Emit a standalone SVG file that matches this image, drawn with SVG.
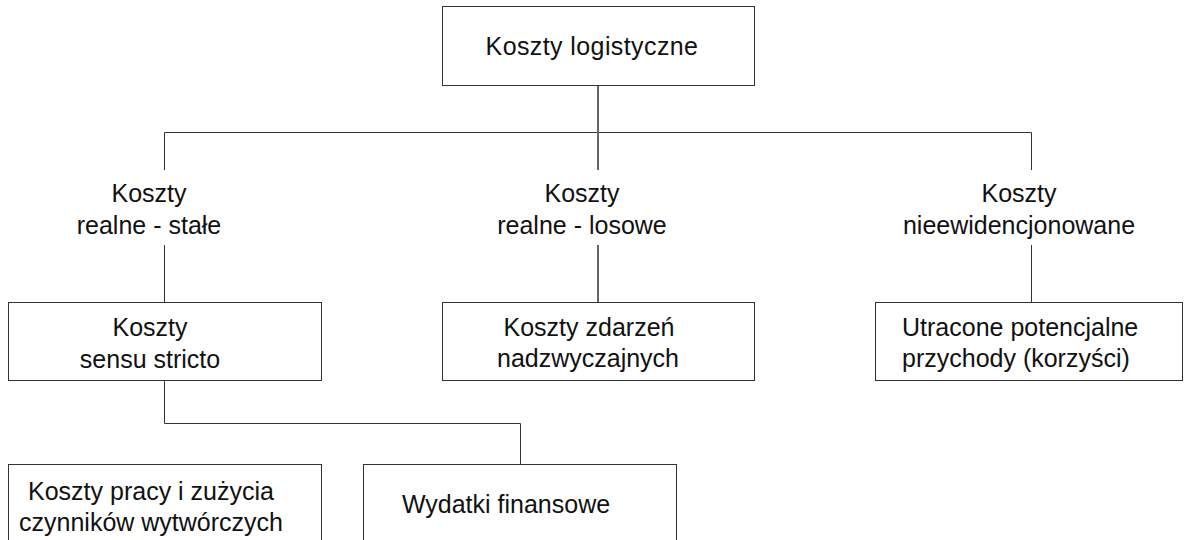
<svg xmlns="http://www.w3.org/2000/svg" width="1184" height="540" viewBox="0 0 1184 540">
<style>
.box{fill:#fff;stroke:#333;stroke-width:1}
.ln{fill:none;stroke:#333;stroke-width:1}
.ln2{fill:none;stroke:#666;stroke-width:2}
text{font-family:"Liberation Sans",Arial,sans-serif;font-size:25px;fill:#111}
.m{text-anchor:middle}
</style>
<rect width="1184" height="540" fill="#fff"/>
<g id="connectors">
<path class="ln" d="M164.5 170 V132.5 H1031.5 V170"/>
<path class="ln2" d="M598 85 V170"/>
<path class="ln" d="M164.5 245 V302"/>
<path class="ln2" d="M598 245 V302"/>
<path class="ln" d="M1031.5 245 V302"/>
<path class="ln" d="M164.5 380 V423.5 H520.5 V464"/>
</g>
<g id="n-logistyczne">
<rect class="box" x="442.5" y="6.5" width="312" height="79"/>
<text class="m" x="592" y="55" style="letter-spacing:0.4px">Koszty logistyczne</text>
</g>
<g id="n-realne-stale">
<text class="m" x="149" y="202">Koszty</text>
<text class="m" x="149" y="234">realne - stałe</text>
</g>
<g id="n-realne-losowe">
<text class="m" x="582" y="202">Koszty</text>
<text class="m" x="582" y="234">realne - losowe</text>
</g>
<g id="n-nieewidencjonowane">
<text class="m" x="1019" y="202">Koszty</text>
<text class="m" x="1019" y="234">nieewidencjonowane</text>
</g>
<g id="n-sensu-stricto">
<rect class="box" x="8.5" y="302.5" width="313" height="78"/>
<text class="m" x="150" y="336">Koszty</text>
<text class="m" x="150" y="368">sensu stricto</text>
</g>
<g id="n-zdarzen">
<rect class="box" x="442.5" y="302.5" width="312" height="78"/>
<text class="m" x="589" y="336">Koszty zdarzeń</text>
<text class="m" x="588" y="367">nadzwyczajnych</text>
</g>
<g id="n-utracone">
<rect class="box" x="875.5" y="302.5" width="307" height="78"/>
<text x="902" y="336">Utracone potencjalne</text>
<text x="902" y="367">przychody (korzyści)</text>
</g>
<g id="n-praca">
<rect class="box" x="8.5" y="464.5" width="313" height="90"/>
<text class="m" x="151" y="500">Koszty pracy i zużycia</text>
<text class="m" x="151" y="531">czynników wytwórczych</text>
</g>
<g id="n-wydatki">
<rect class="box" x="363.5" y="464.5" width="313" height="90"/>
<text class="m" x="506" y="513">Wydatki finansowe</text>
</g>
</svg>
